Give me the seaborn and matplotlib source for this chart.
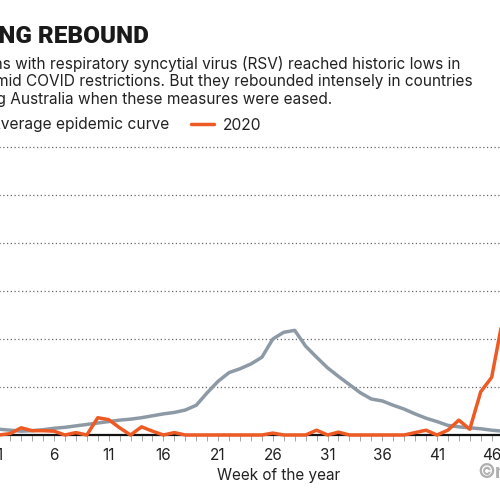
import numpy as np
import pandas as pd
import matplotlib.pyplot as plt
import seaborn as sns

# Weekly values (arbitrary units, gridline = 1)
weeks = list(range(1, 53))
average_curve = [0.12, 0.10, 0.08, 0.09, 0.11, 0.14, 0.16, 0.19, 0.22, 0.25,
                 0.28, 0.31, 0.33, 0.36, 0.40, 0.44, 0.47, 0.52, 0.62, 0.88,
                 1.12, 1.30, 1.38, 1.48, 1.62, 2.00, 2.14, 2.18, 1.85, 1.62,
                 1.40, 1.22, 1.05, 0.88, 0.75, 0.71, 0.62, 0.54, 0.44, 0.35,
                 0.28, 0.20, 0.17, 0.15, 0.13, 0.10, 0.08, 0.07, 0.07, 0.08,
                 0.09, 0.10]
rsv_2020 = [0.00, 0.03, 0.15, 0.09, 0.09, 0.08, 0.00, 0.05, 0.00, 0.36,
            0.32, 0.15, 0.00, 0.17, 0.08, 0.00, 0.05, 0.00, 0.00, 0.00,
            0.00, 0.00, 0.00, 0.00, 0.00, 0.04, 0.00, 0.00, 0.00, 0.10,
            0.00, 0.06, 0.00, 0.00, 0.00, 0.00, 0.00, 0.00, 0.05, 0.10,
            0.00, 0.10, 0.31, 0.12, 0.90, 1.20, 2.40, 3.50, 4.20, 4.60,
            4.80, 5.00]
series_names = ['Average epidemic curve', '2020']

df = pd.DataFrame({
    'week': weeks * 2,
    'value': average_curve + rsv_2020,
    'series': [series_names[0]] * len(weeks) + [series_names[1]] * len(weeks),
})

sns.set_theme(style='white')
plt.rcParams['font.family'] = ['Inter', 'DejaVu Sans']

grey = '#8d9aa6'
orange = '#ee5a24'
text_col = '#222222'

fig = plt.figure(figsize=(5, 5), dpi=100)
# the original graphic is wider than the crop, so the axes runs off both edges
ax = fig.add_axes([-0.0014, 0.13, 1.116, 0.6])

sns.lineplot(data=df, x='week', y='value', hue='series',
             palette={series_names[0]: grey, series_names[1]: orange},
             linewidth=2.5, ax=ax, legend=False, zorder=3)
for line in ax.lines:
    line.set_clip_on(False)
    line.set_solid_capstyle('round')
    line.set_solid_joinstyle('round')

ax.set_xlim(1, 52)
ax.set_ylim(0, 6.25)
for s in ax.spines.values():
    s.set_visible(False)
ax.axhline(0, color='#111111', lw=1.6, zorder=2, clip_on=False)

ax.set_yticks(range(1, 7))
ax.set_yticklabels([])
ax.yaxis.grid(True, linestyle=(0, (1, 2)), color='#666666', lw=0.9)
ax.tick_params(axis='y', length=0)

ax.set_xticks(range(1, 53, 5))
ax.set_xticks(weeks, minor=True)
ax.tick_params(axis='x', which='both', direction='out', length=4, width=0.6,
               color='#999999', bottom=True, labelsize=11, labelcolor=text_col, pad=5)
ax.set_xlabel('Week of the year', fontsize=11, color=text_col, labelpad=4)
ax.set_ylabel('')

# title, standfirst and legend (cropped at the left like the reference)
fig.text(0.297, 0.914, 'STRONG REBOUND', ha='right', va='baseline',
         fontsize=17.5, fontweight='black', color='#1a1a1a',
         family=['Roboto', 'DejaVu Sans'])
lines = ['Infections with respiratory syncytial virus (RSV) reached historic lows in',
         '2020 amid COVID restrictions. But they rebounded intensely in countries',
         'including Australia when these measures were eased.']
right_ends = [0.920, 0.946, 0.664]
for i, (txt, xr) in enumerate(zip(lines, right_ends)):
    fig.text(xr, 0.862 - i * 0.0345, txt, ha='right', va='baseline',
             fontsize=11.1, color=text_col)

handles = [plt.Line2D([], [], color=grey, lw=2.5),
           plt.Line2D([], [], color=orange, lw=2.5)]
fig.legend(handles, series_names, ncol=2, frameon=False, fontsize=11.2,
           loc='center right', bbox_to_anchor=(0.538, 0.75),
           handlelength=1.5, handletextpad=0.55, columnspacing=1.4,
           borderpad=0, labelcolor=text_col)

fig.text(0.955, 0.054, '©nature', ha='left', va='center', fontsize=14,
         fontweight='bold', color='#b0b0b0')

fig.savefig('out.png', dpi=100)
